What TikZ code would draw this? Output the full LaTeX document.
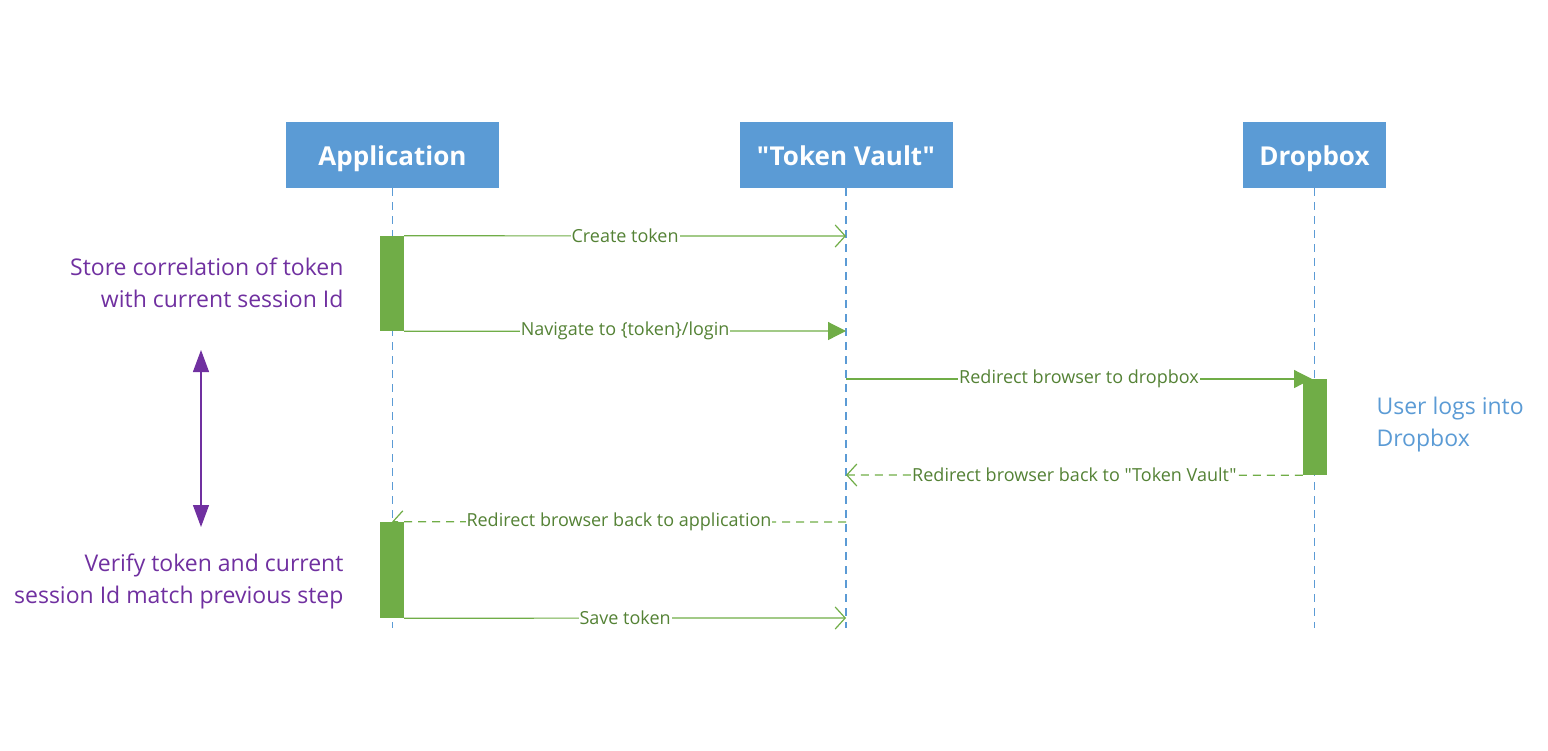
\documentclass[tikz,border=0pt]{standalone}
\usepackage{fontspec}
\setmainfont{Open Sans}[Ligatures=TeXOff]
\usetikzlibrary{arrows.meta}
\definecolor{hdrblue}{HTML}{5B9BD5}
\definecolor{actgreen}{HTML}{70AD47}
\definecolor{msggreen}{HTML}{548235}
\definecolor{notepurple}{HTML}{7030A0}
\begin{document}
\begin{tikzpicture}[x=1pt,y=-1pt,
    actor/.style={fill=hdrblue,text=white,font=\fontsize{26}{31}\selectfont\bfseries,
        minimum width=213pt,minimum height=66pt,inner sep=0pt,text height=20pt,text depth=0pt},
    lifeline/.style={hdrblue,line width=1.2pt,dash pattern=on 8pt off 6pt},
    activation/.style={fill=actgreen,minimum width=24pt,inner sep=0pt},
    msg/.style={actgreen,line width=1.2pt},
    reply/.style={msg,dash pattern=on 8pt off 6pt},
    opentip/.style={-{Straight Barb[length=10pt,width=22pt]}},
    filltip/.style={-{Triangle[length=18pt,width=18pt]}},
    msglabel/.style={fill=white,text=msggreen,font=\fontsize{18}{21}\selectfont,inner sep=1pt},
    note/.style={font=\fontsize{23}{32}\selectfont}]
    \useasboundingbox (0,0) rectangle (1548,750);

    % actors
    \node[actor] (app) at (392.5,155) {Application};
    \node[actor] (vault) at (846,155) {"Token Vault"};
    \node[actor,minimum width=143pt] (dbx) at (1314.5,155) {Dropbox};

    % lifelines
    \coordinate (app end) at (392.5,628);
    \coordinate (vault end) at (846,628);
    \coordinate (dbx end) at (1314.5,628);
    \draw[lifeline] (app.south) -- (app end)
        (vault.south) -- (vault end)
        (dbx.south) -- (dbx end);

    % activations
    \node[activation,minimum height=95pt] (act1) at (392,283.5) {};
    \node[activation,minimum height=96pt] (act2) at (392,570) {};
    \node[activation,minimum height=96pt] (act3) at (1315,427) {};

    % points on the vault lifeline
    \coordinate (v1) at (846,236);
    \coordinate (v2) at (846,331);
    \coordinate (v3) at (846,379);
    \coordinate (v4) at (846,475);
    \coordinate (v5) at (846,522);
    \coordinate (v6) at (846,618);
    \coordinate (d3) at (1312,379);

    % messages
    \draw[msg,opentip] (act1.north east) -- (v1)
        node[msglabel,midway] (m1) {Create token};
    \draw[msg,filltip] (act1.south east) -- (v2)
        node[msglabel,midway] (m2) {Navigate to \{token\}/login};
    \draw[msg,filltip] (v3) -- (d3)
        node[msglabel,midway] (m3) {Redirect browser to dropbox};
    \draw[reply,opentip] (act3.south west) -- (v4)
        node[msglabel,midway] (m4) {Redirect browser back to "Token Vault"};
    \draw[reply,opentip] (v5) -- (act2.north)
        node[msglabel,midway] (m5) {Redirect browser back to application};
    \draw[msg,opentip] (act2.south east) -- (v6)
        node[msglabel,midway] (m6) {Save token};

    % notes
    \node[note,text=notepurple,align=right,anchor=east] (n1) at (347,283)
        {Store correlation of token\\with current session Id};
    \node[note,text=notepurple,align=right,anchor=east] (n2) at (347,581)
        {Verify token and current\\session Id match previous step};
    \node[note,text=hdrblue,align=left,anchor=west] (n3) at (1373,425)
        {User logs into\\Dropbox};

    \coordinate (gap top) at (201,350);
    \coordinate (gap bottom) at (201,527);
    \draw[notepurple,line width=1.2pt,{Triangle[length=22pt,width=16pt]}-{Triangle[length=22pt,width=16pt]}]
        (gap top) -- (gap bottom);
\end{tikzpicture}
\end{document}
